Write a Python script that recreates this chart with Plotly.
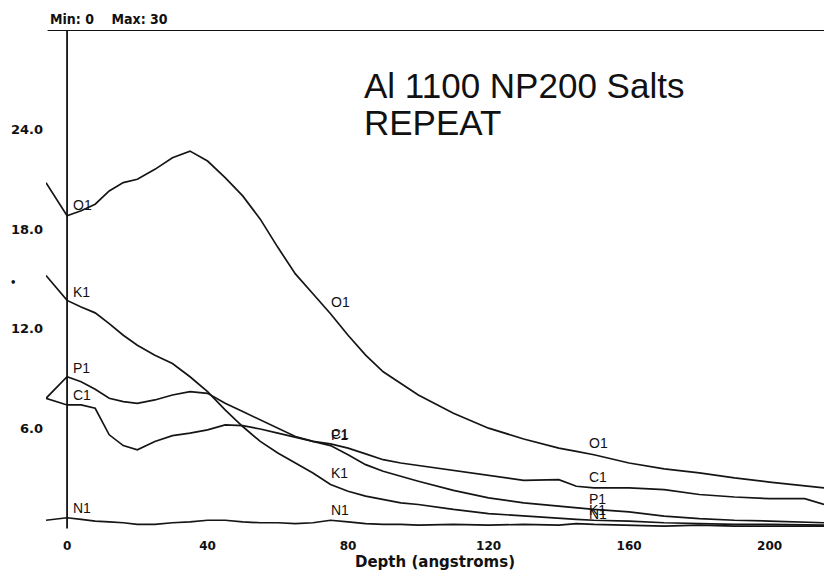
import numpy as np
import plotly.graph_objects as go

depth = [-6, 0, 4, 8, 12, 16, 20, 25, 30, 35, 40, 45, 50, 55, 60, 65, 70, 75, 80, 85,
         90, 95, 100, 110, 120, 130, 140, 145, 150, 160, 170, 180, 190, 200, 210, 215.5]

o1 = [20.8, 18.8, 19.1, 19.5, 20.3, 20.8, 21.0, 21.6, 22.3, 22.7, 22.1, 21.1, 20.0, 18.6,
      16.9, 15.3, 14.1, 12.9, 11.6, 10.4, 9.4, 8.7, 8.0, 6.9, 6.0, 5.35, 4.8, 4.6, 4.4,
      3.9, 3.55, 3.3, 3.0, 2.75, 2.5, 2.4]
k1 = [15.2, 13.7, 13.3, 12.95, 12.3, 11.6, 11.0, 10.4, 9.9, 9.1, 8.2, 7.1, 6.1, 5.2,
      4.5, 3.9, 3.3, 2.6, 2.2, 1.9, 1.7, 1.5, 1.4, 1.1, 0.85, 0.7, 0.55, 0.5, 0.45,
      0.4, 0.3, 0.25, 0.2, 0.2, 0.15, 0.15]
p1 = [7.8, 9.1, 8.8, 8.35, 7.8, 7.6, 7.5, 7.7, 8.0, 8.2, 8.1, 7.5, 7.0, 6.5, 6.0, 5.5,
      5.2, 4.95, 4.4, 3.8, 3.4, 3.1, 2.8, 2.25, 1.8, 1.5, 1.3, 1.2, 1.1, 0.95, 0.7,
      0.55, 0.45, 0.4, 0.35, 0.3]
c1 = [7.8, 7.4, 7.4, 7.2, 5.6, 4.95, 4.7, 5.2, 5.55, 5.7, 5.9, 6.2, 6.15, 5.95, 5.7,
      5.45, 5.2, 5.05, 4.8, 4.45, 4.1, 3.9, 3.75, 3.45, 3.15, 2.85, 2.9, 2.5, 2.4, 2.4,
      2.3, 2.0, 1.85, 1.75, 1.75, 1.4]
n1 = [0.45, 0.6, 0.5, 0.4, 0.35, 0.3, 0.2, 0.2, 0.3, 0.35, 0.45, 0.45, 0.35, 0.3, 0.3,
      0.25, 0.3, 0.45, 0.35, 0.25, 0.2, 0.2, 0.15, 0.2, 0.15, 0.2, 0.15, 0.25, 0.2,
      0.15, 0.1, 0.15, 0.1, 0.1, 0.1, 0.1]

series = {"O1": o1, "K1": k1, "P1": p1, "C1": c1, "N1": n1}
label_depths = [1, 74.5, 148]

x_ticks = [0, 40, 80, 120, 160, 200]
y_ticks = [6, 12, 18, 24]
y_tick_text = ["6.0", "12.0", "18.0", "24.0"]

fig = go.Figure()
for name, vals in series.items():
    fig.add_trace(go.Scatter(x=depth, y=vals, mode="lines", name=name,
                             line=dict(color="#151515", width=1.7),
                             showlegend=False))

annotations = []
for name, vals in series.items():
    for ld in label_depths:
        yv = float(np.interp(ld, depth, vals))
        annotations.append(dict(x=ld, y=yv, xref="x", yref="y", text=name,
                                showarrow=False, xanchor="left", yanchor="bottom",
                                yshift=0,
                                font=dict(family="Liberation Sans", size=14, color="#111111")))

annotations += [
    dict(x=(362 - 46) / 778, y=1 - (85.5 - 30) / 506, xref="paper", yref="paper",
         text="Al 1100 NP200 Salts", showarrow=False, xanchor="left", yanchor="middle",
         font=dict(family="Liberation Sans", size=35, color="#111111")),
    dict(x=(362 - 46) / 778, y=1 - (122.5 - 30) / 506, xref="paper", yref="paper",
         text="REPEAT", showarrow=False, xanchor="left", yanchor="middle",
         font=dict(family="Liberation Sans", size=35, color="#111111")),
    dict(x=(48 - 46) / 778, y=1 + (30 - 19) / 506, xref="paper", yref="paper",
         text="<b>Min: 0    Max: 30</b>", showarrow=False, xanchor="left", yanchor="middle",
         font=dict(family="DejaVu Sans Condensed", size=14, color="#111111")),
    dict(x=(13 - 46) / 778, y=14.8, xref="paper", yref="y",
         text="<b>•</b>", showarrow=False, xanchor="center", yanchor="middle",
         font=dict(family="DejaVu Sans", size=10, color="#111111")),
]

fig.update_layout(
    width=824, height=581,
    margin=dict(l=46, r=0, t=30, b=45),
    paper_bgcolor="white", plot_bgcolor="white",
    annotations=annotations,
    shapes=[
        dict(type="line", xref="paper", yref="y", x0=0.002, x1=1, y0=30, y1=30,
             line=dict(color="#111111", width=2)),
        dict(type="line", xref="x", yref="y", x0=0, x1=0, y0=-0.05, y1=30,
             line=dict(color="#111111", width=1.8)),
    ],
    xaxis=dict(range=[-6, 215.5], tickvals=x_ticks, showgrid=False, zeroline=False,
               showline=False, ticks="", ticklabelstandoff=1,
               tickfont=dict(family="DejaVu Sans", size=12, color="#111111", weight="bold"),
               title=dict(text="<b>Depth (angstroms)</b>", standoff=3,
                          font=dict(family="DejaVu Sans", size=15, color="#111111"))),
    yaxis=dict(range=[-0.5, 30], tickvals=y_ticks, ticktext=y_tick_text, showgrid=False,
               zeroline=False, showline=False, ticks="", ticklabelstandoff=2,
               tickfont=dict(family="DejaVu Sans", size=13, color="#111111", weight="bold")),
)

fig.write_html("out.html")
